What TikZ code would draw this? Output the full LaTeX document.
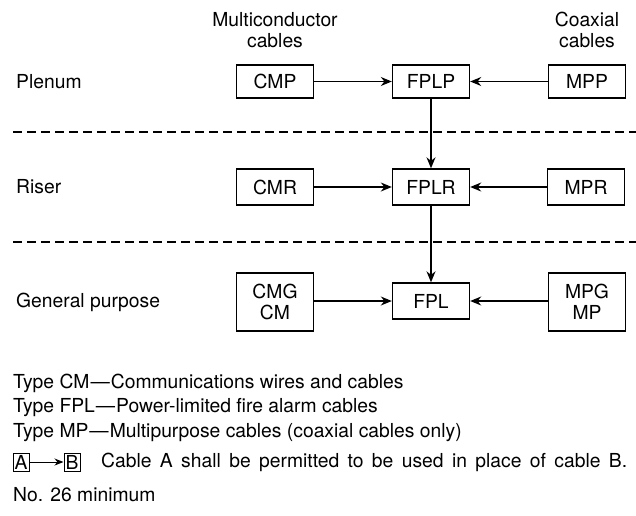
\documentclass[tikz,border=0pt]{standalone}
\usepackage{fontspec}
\setmainfont{TeX Gyre Heros}
\usetikzlibrary{arrows.meta}
\begin{document}
\begin{tikzpicture}[x=1pt,y=-1pt,
  every node/.style={font=\fontsize{19.3}{21}\selectfont, inner sep=0pt},
  box/.style={draw, line width=1.4pt, minimum width=77pt, minimum height=33pt, align=center},
  tallbox/.style={box, minimum height=58pt},
  conn/.style={line width=1.3pt, -{Stealth[length=11pt,width=9pt]}},
  smallconn/.style={line width=1pt, -{Stealth[length=9pt,width=7pt]}},
  sep/.style={dash pattern=on 9pt off 5pt, line width=1.2pt},
  lbl/.style={anchor=west},
  legbox/.style={draw, line width=1pt, minimum width=16pt, minimum height=18pt},
]
\useasboundingbox (0,0) rectangle (636,515);

% headers
\node[align=center] (hmc) at (275,30) {Multiconductor\\cables};
\node[align=center] (hcx) at (587,30) {Coaxial\\cables};

% row labels
\node[lbl] (plenum) at (16,81.5) {Plenum};
\node[lbl] (riser) at (16,187) {Riser};
\node[lbl] (general) at (16,302) {General purpose};

% boxes
\node[box] (cmp) at (275,81.5) {CMP};
\node[box] (fplp) at (431,81.5) {FPLP};
\node[box] (mpp) at (587,81.5) {MPP};
\node[box, minimum height=36pt] (cmr) at (275,187) {CMR};
\node[box, minimum height=36pt] (fplr) at (431,187) {FPLR};
\node[box, minimum height=36pt] (mpr) at (586,187) {MPR};
\node[tallbox] (cmg) at (275,302) {CMG\\CM};
\node[box, minimum height=36pt] (fpl) at (431,301) {FPL};
\node[tallbox] (mpg) at (587,302) {MPG\\MP};

% dashed separators
\coordinate (d1l) at (13,132);
\coordinate (d1r) at (636,132);
\coordinate (d2l) at (13,242);
\coordinate (d2r) at (636,242);
\draw[sep] (d1l) -- (d1r);
\draw[sep] (d2l) -- (d2r);

% connectors
\draw[conn] (cmp) -- (fplp);
\draw[conn] (mpp) -- (fplp);
\draw[conn] (cmr) -- (fplr);
\draw[conn] (mpr) -- (fplr);
\draw[conn] (cmg.east |- fpl) -- (fpl);
\draw[conn] (mpg.west |- fpl) -- (fpl);
\draw[conn] (fplp) -- (fplr);
\draw[conn] (fplr) -- (fpl);

% notes
\node[lbl] (t1) at (13,383) {Type CM\kern1pt---\kern1ptCommunications wires and cables};
\node[lbl] (t2) at (13,408) {Type FPL\kern1pt---\kern1ptPower-limited fire alarm cables};
\node[lbl] (t3) at (13,433) {Type MP\kern1pt---\kern1ptMultipurpose cables (coaxial cables only)};
\node[legbox] (la) at (21,462) {A};
\node[legbox] (lb) at (72,462) {B};
\draw[smallconn] (la) -- (lb);
\node[lbl] (t4) at (101,462) {\makebox[526pt][s]{Cable A shall be permitted to be used in place of cable B.}};
\node[lbl] (t5) at (13,495) {No. 26 minimum};
\end{tikzpicture}
\end{document}
